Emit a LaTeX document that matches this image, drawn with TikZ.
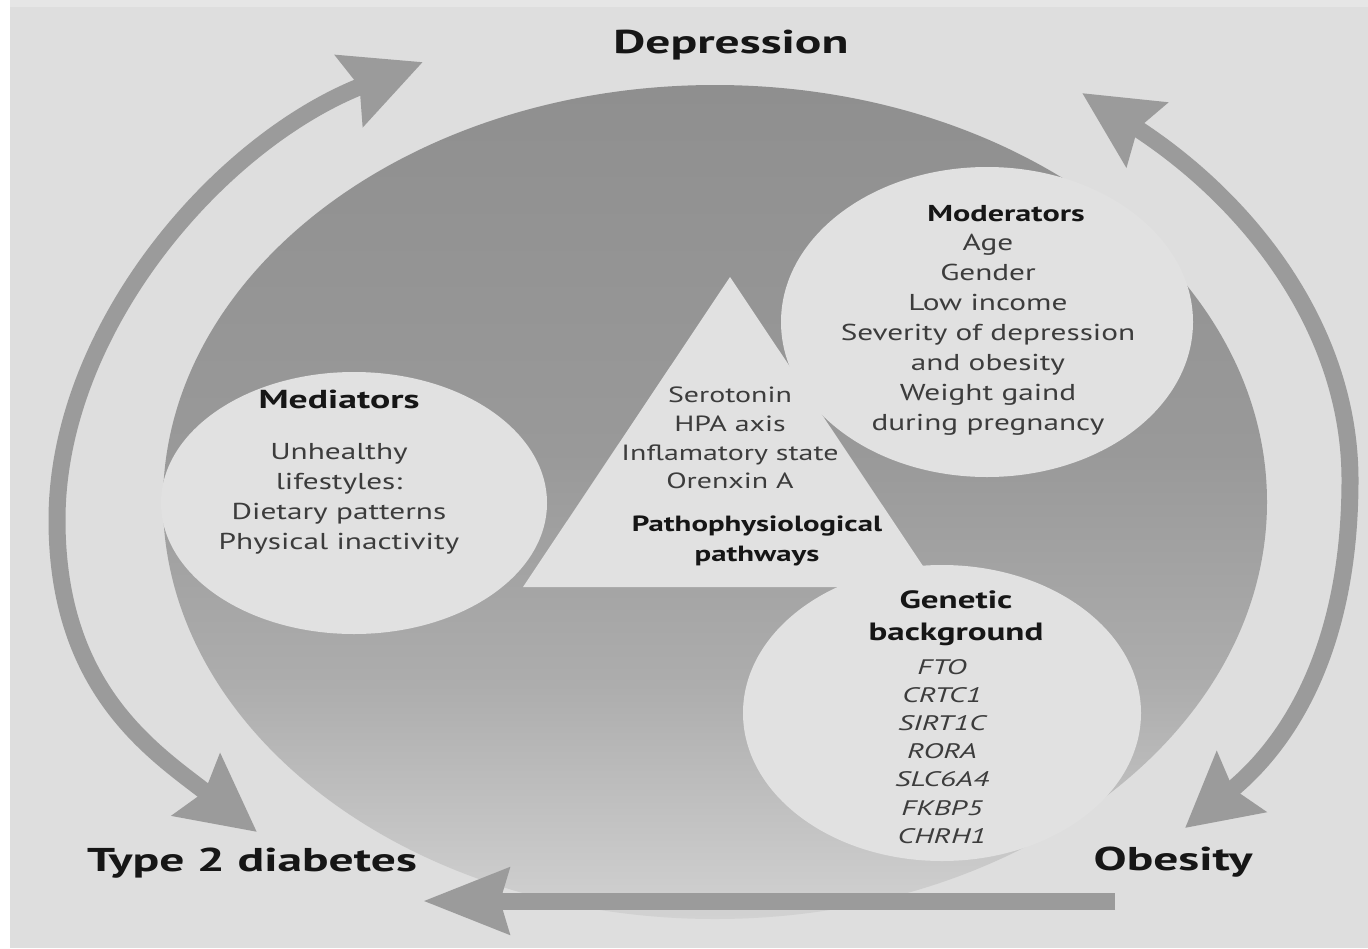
\documentclass[tikz,border=0pt]{standalone}
\usepackage{fontspec}
\setmainfont{PT Sans}[FakeStretch=1.36]
\newfontfamily\subfont{PT Sans}[FakeStretch=1.40]
\newfontfamily\medfont{PT Sans}[FakeStretch=1.45]
\newfontfamily\titlefont{PT Sans}[FakeStretch=1.50]
\usetikzlibrary{arrows.meta}
\definecolor{bgc}{HTML}{DEDEDE}
\definecolor{bgtop}{HTML}{E6E6E6}
\definecolor{circc}{HTML}{E1E1E1}
\definecolor{arrc}{HTML}{9B9B9B}
\definecolor{txtc}{HTML}{3C3C3C}
\definecolor{ttlc}{HTML}{161616}
\definecolor{sT}{HTML}{8F8F8F}
\definecolor{sM}{HTML}{999999}
\definecolor{sC}{HTML}{ADADAD}
\definecolor{sB}{HTML}{D2D2D2}
\pgfdeclareverticalshading{ellsh}{100bp}{color(0bp)=(sB); color(25bp)=(sB); color(39bp)=(sC); color(53bp)=(sM); color(75bp)=(sT); color(100bp)=(sT)}
\tikzset{
  bigtitle/.style={font=\titlefont\fontsize{33}{38}\selectfont\bfseries, text=ttlc, inner sep=0pt, anchor=base},
  bodytxt/.style={font=\fontsize{23}{30}\selectfont, text=txtc, align=center, inner sep=0pt, anchor=north},
  subtitle/.style={font=\subfont\fontsize{23}{30}\selectfont\bfseries, text=ttlc, align=center, inner sep=0pt, anchor=north},
  genetxt/.style={font=\medfont\fontsize{21}{28.2}\selectfont\itshape, text=txtc, align=center, inner sep=0pt, anchor=north},
  bigarrow/.style={draw=arrc, line width=17pt},
  lightshape/.style={fill=circc}
}
\begin{document}
\begin{tikzpicture}[x=1pt,y=-1pt]
\useasboundingbox (0,0) rectangle (1368,948);
\fill[white] (0,0) rectangle (1368,948);
\fill[bgc] (10,0) rectangle (1368,948);
\fill[bgtop] (10,0) rectangle (1368,7);

% big ellipse with gradient
\shade[shading=ellsh] (715,502) ellipse [x radius=552, y radius=417];

% triangle and circles
\fill[lightshape] (730,277) -- (523,587) -- (937,587) -- cycle;
\fill[lightshape] (354,503) ellipse [x radius=193, y radius=131];
\fill[lightshape] (987,322) ellipse [x radius=206, y radius=155];
\fill[lightshape] (942,713) ellipse [x radius=199, y radius=148];

% titles
\node[bigtitle] (dep) at (731,53) {Depression};
\node[bigtitle] (t2d) at (252,871) {Type 2 diabetes};
\node[bigtitle] (obe) at (1173,870) {Obesity};

% mediators
\node[subtitle, font=\medfont\fontsize{26}{30}\selectfont\bfseries] (medt) at (339,390) {Mediators};
\node[bodytxt] (med) at (339,443) {Unhealthy\\lifestyles:\\Dietary patterns\\Physical inactivity};

% moderators
\node[subtitle] (modt) at (1006,205) {Moderators};
\node[bodytxt] (mod) at (988,234) {Age\\Gender\\Low income\\Severity of depression\\and obesity\\Weight gaind\\during pregnancy};

% pathways
\node[bodytxt, font=\fontsize{22}{28.7}\selectfont] (pathl) at (730,387) {Serotonin\\HPA axis\\Inflamatory state\\Orenxin A};
\node[subtitle, font=\subfont\fontsize{22}{30}\selectfont\bfseries] (patht) at (757,516) {Pathophysiological\\pathways};

% genetic
\node[subtitle, font=\subfont\fontsize{25}{32}\selectfont\bfseries] (gent) at (956,590) {Genetic\\background};
\node[genetxt] (genl) at (942,659) {FTO\\CRTC1\\SIRT1C\\RORA\\SLC6A4\\FKBP5\\CHRH1};

% arrows
\coordinate (lT) at (423,62);
\coordinate (lB) at (257,832);
\coordinate (lM) at (57,520);
\coordinate (rT) at (1082,93);
\coordinate (rB) at (1185,828);
\coordinate (rM) at (1350,480);
\coordinate (bR) at (1115,901);
\coordinate (bL) at (423,901);

\draw[bigarrow, {Stealth[length=76pt,width=76pt,inset=10pt]}-{Stealth[length=78pt,width=74pt,inset=10pt]}]
  (lB) .. controls (154,752) and (57,690) .. (lM) .. controls (57,330) and (218,142) .. (lT);
\draw[bigarrow, {Stealth[length=76pt,width=74pt,inset=10pt]}-{Stealth[length=72pt,width=76pt,inset=10pt]}]
  (rT) .. controls (1250,201) and (1350,330) .. (rM) .. controls (1350,630) and (1301,733) .. (rB);
\draw[bigarrow, -{Stealth[length=85pt,width=64pt,inset=8pt]}] (bR) -- (bL);
\end{tikzpicture}
\end{document}
